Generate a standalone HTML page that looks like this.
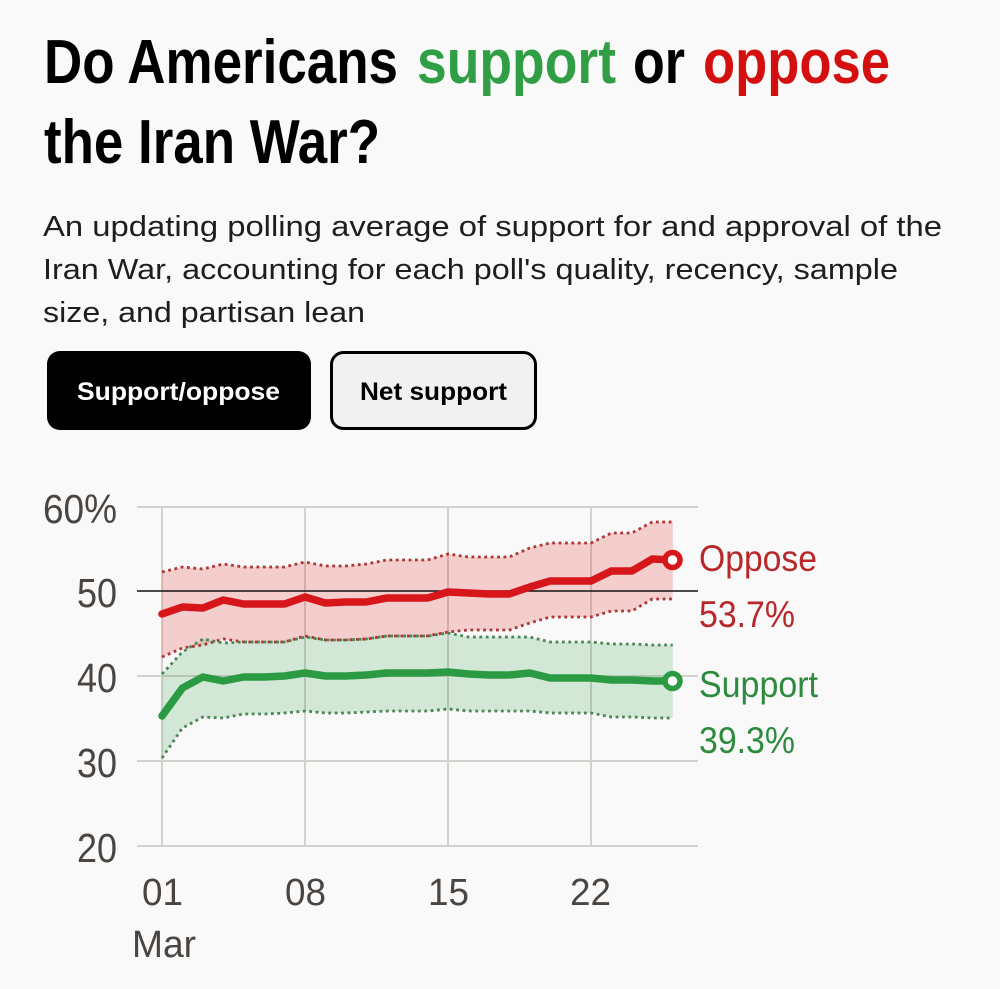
<!DOCTYPE html>
<html>
<head>
<meta charset="utf-8">
<style>
  html,body{margin:0;padding:0;background:#f9f9f9;}
  svg{display:block;}
  .cond{font-family:"Liberation Sans Narrow","Liberation Sans",sans-serif;}
  .reg{font-family:"Liberation Sans",sans-serif;}
</style>
</head>
<body>
<svg width="1000" height="989" viewBox="0 0 1000 989" xmlns="http://www.w3.org/2000/svg">
  <rect x="0" y="0" width="1000" height="989" fill="#f9f9f9"/>

  <!-- Title -->
  <g class="cond" font-weight="bold" font-size="62">
    <text x="44" y="83" fill="#000" textLength="354" lengthAdjust="spacingAndGlyphs">Do Americans</text>
    <text x="417" y="83" fill="#2f9e44" textLength="199" lengthAdjust="spacingAndGlyphs">support</text>
    <text x="633" y="83" fill="#000" textLength="52" lengthAdjust="spacingAndGlyphs">or</text>
    <text x="703" y="83" fill="#d40f0f" textLength="187" lengthAdjust="spacingAndGlyphs">oppose</text>
    <text x="44" y="163" fill="#000" textLength="336" lengthAdjust="spacingAndGlyphs">the Iran War?</text>
  </g>

  <!-- Subtitle -->
  <g class="reg" font-size="28.5" fill="#1e1e1e">
    <text x="43" y="236" textLength="899" lengthAdjust="spacingAndGlyphs">An updating polling average of support for and approval of the</text>
    <text x="43" y="279" textLength="855" lengthAdjust="spacingAndGlyphs">Iran War, accounting for each poll's quality, recency, sample</text>
    <text x="43" y="322" textLength="322" lengthAdjust="spacingAndGlyphs">size, and partisan lean</text>
  </g>

  <!-- Buttons -->
  <rect x="47" y="351" width="264" height="79" rx="13" ry="13" fill="#000"/>
  <text class="reg" x="77" y="400" font-size="25" font-weight="bold" fill="#fff" textLength="203" lengthAdjust="spacingAndGlyphs">Support/oppose</text>
  <rect x="331.5" y="352.5" width="204" height="76" rx="12" ry="12" fill="#f1f1f1" stroke="#000" stroke-width="3"/>
  <text class="reg" x="360" y="400" font-size="25" font-weight="bold" fill="#000" textLength="147" lengthAdjust="spacingAndGlyphs">Net support</text>

  <!-- Gridlines -->
  <g stroke="#d4d0cb" stroke-width="2" fill="none">
    <line x1="137" y1="507" x2="698" y2="507"/>
    <line x1="137" y1="676" x2="698" y2="676"/>
    <line x1="137" y1="761" x2="698" y2="761"/>
    <line x1="137" y1="846" x2="698" y2="846"/>
    <line x1="162" y1="507" x2="162" y2="846"/>
    <line x1="305" y1="507" x2="305" y2="846"/>
    <line x1="448" y1="507" x2="448" y2="846"/>
    <line x1="591" y1="507" x2="591" y2="846"/>
  </g>

  <!-- Bands -->
  <polygon fill="rgb(225,30,30)" fill-opacity="0.2" points="162,572 182.4,567 202.9,569 223.3,564 243.7,567 264.2,567 284.6,567 305,562 325.4,566 345.9,566 366.3,564 386.7,560 407.2,560 427.6,560 448,554 468.5,557 488.9,557 509.3,557 529.7,548 550.2,543 570.6,543 591,543 611.4,533 631.9,533 652.3,522 672.8,522 672.8,599 652.3,599 631.9,611 611.4,611 591,617 570.6,617 550.2,617 529.7,623 509.3,630 488.9,630 468.5,630 448,632 427.6,636 407.2,636 386.7,636 366.3,639 345.9,640 325.4,640 305,636 284.6,642 264.2,642 243.7,642 223.3,639 202.9,645 182.4,648 162,657"/>
  <polygon fill="rgb(40,150,60)" fill-opacity="0.18" points="162,674 182.4,652 202.9,639 223.3,643 243.7,642 264.2,642 284.6,642 305,637 325.4,640 345.9,640 366.3,639 386.7,636 407.2,636 427.6,636 448,633 468.5,637 488.9,637 509.3,637 529.7,637 550.2,642 570.6,642 591,642 611.4,644 631.9,644 652.3,645 672.8,645 672.8,718 652.3,718 631.9,717 611.4,717 591,713 570.6,713 550.2,713 529.7,711 509.3,711 488.9,711 468.5,711 448,709 427.6,711 407.2,711 386.7,711 366.3,712 345.9,713 325.4,713 305,711 284.6,713 264.2,714 243.7,714 223.3,718 202.9,717 182.4,728 162,758"/>

  <!-- 50 line -->
  <line x1="137" y1="591" x2="698" y2="591" stroke="#111" stroke-width="1.6"/>

  <!-- Dotted bounds -->
  <g fill="none" stroke-width="2.8" stroke-dasharray="2.8 3.6" stroke-linejoin="round">
    <polyline stroke="#ad3535" points="162,572 182.4,567 202.9,569 223.3,564 243.7,567 264.2,567 284.6,567 305,562 325.4,566 345.9,566 366.3,564 386.7,560 407.2,560 427.6,560 448,554 468.5,557 488.9,557 509.3,557 529.7,548 550.2,543 570.6,543 591,543 611.4,533 631.9,533 652.3,522 672.8,522"/>
    <polyline stroke="#ad3535" points="162,657 182.4,648 202.9,645 223.3,639 243.7,642 264.2,642 284.6,642 305,636 325.4,640 345.9,640 366.3,639 386.7,636 407.2,636 427.6,636 448,632 468.5,630 488.9,630 509.3,630 529.7,623 550.2,617 570.6,617 591,617 611.4,611 631.9,611 652.3,599 672.8,599"/>
    <polyline stroke="#4a8654" points="162,674 182.4,652 202.9,639 223.3,643 243.7,642 264.2,642 284.6,642 305,637 325.4,640 345.9,640 366.3,639 386.7,636 407.2,636 427.6,636 448,633 468.5,637 488.9,637 509.3,637 529.7,637 550.2,642 570.6,642 591,642 611.4,644 631.9,644 652.3,645 672.8,645"/>
    <polyline stroke="#4a8654" points="162,758 182.4,728 202.9,717 223.3,718 243.7,714 264.2,714 284.6,713 305,711 325.4,713 345.9,713 366.3,712 386.7,711 407.2,711 427.6,711 448,709 468.5,711 488.9,711 509.3,711 529.7,711 550.2,713 570.6,713 591,713 611.4,717 631.9,717 652.3,718 672.8,718"/>
  </g>

  <!-- Main lines -->
  <g fill="none" stroke-width="7.5" stroke-linejoin="round" stroke-linecap="round">
    <polyline stroke="#d7161b" points="162,614 182.4,607 202.9,608 223.3,600 243.7,604 264.2,604 284.6,604 305,597 325.4,603 345.9,602 366.3,602 386.7,598 407.2,598 427.6,598 448,592 468.5,593 488.9,594 509.3,594 529.7,587 550.2,581 570.6,581 591,581 611.4,571 631.9,571 652.3,559 672.8,560"/>
    <polyline stroke="#2b9b43" points="162,716 182.4,688 202.9,677 223.3,681 243.7,677 264.2,677 284.6,676 305,673 325.4,676 345.9,676 366.3,675 386.7,673 407.2,673 427.6,673 448,672 468.5,674 488.9,675 509.3,675 529.7,673 550.2,678 570.6,678 591,678 611.4,680 631.9,680 652.3,681 672.8,681"/>
  </g>

  <!-- End circles -->
  <circle cx="672.5" cy="560" r="7.5" fill="#fff" stroke="#d7161b" stroke-width="5.5"/>
  <circle cx="672.5" cy="681" r="7.5" fill="#fff" stroke="#2b9b43" stroke-width="5.5"/>

  <!-- Right labels -->
  <g class="cond" font-size="37">
    <text x="699" y="571" fill="#b8282a" textLength="118" lengthAdjust="spacingAndGlyphs">Oppose</text>
    <text x="699" y="627" fill="#b8282a" textLength="96" lengthAdjust="spacingAndGlyphs">53.7%</text>
    <text x="699" y="697" fill="#2e8b3e" textLength="119" lengthAdjust="spacingAndGlyphs">Support</text>
    <text x="699" y="753" fill="#2e8b3e" textLength="96" lengthAdjust="spacingAndGlyphs">39.3%</text>
  </g>

  <!-- Y axis labels -->
  <g class="cond" font-size="41" fill="#4a4541">
    <text x="43" y="523" textLength="74" lengthAdjust="spacingAndGlyphs">60%</text>
    <text x="77" y="607" textLength="40" lengthAdjust="spacingAndGlyphs">50</text>
    <text x="77" y="692" textLength="40" lengthAdjust="spacingAndGlyphs">40</text>
    <text x="77" y="777" textLength="40" lengthAdjust="spacingAndGlyphs">30</text>
    <text x="77" y="862" textLength="40" lengthAdjust="spacingAndGlyphs">20</text>
  </g>

  <!-- X axis labels -->
  <g class="cond" font-size="38" fill="#4a4541">
    <text x="142" y="905" textLength="41" lengthAdjust="spacingAndGlyphs">01</text>
    <text x="285" y="905" textLength="41" lengthAdjust="spacingAndGlyphs">08</text>
    <text x="428" y="905" textLength="41" lengthAdjust="spacingAndGlyphs">15</text>
    <text x="570" y="905" textLength="41" lengthAdjust="spacingAndGlyphs">22</text>
    <text x="132" y="957" textLength="64" lengthAdjust="spacingAndGlyphs">Mar</text>
  </g>
</svg>
</body>
</html>
